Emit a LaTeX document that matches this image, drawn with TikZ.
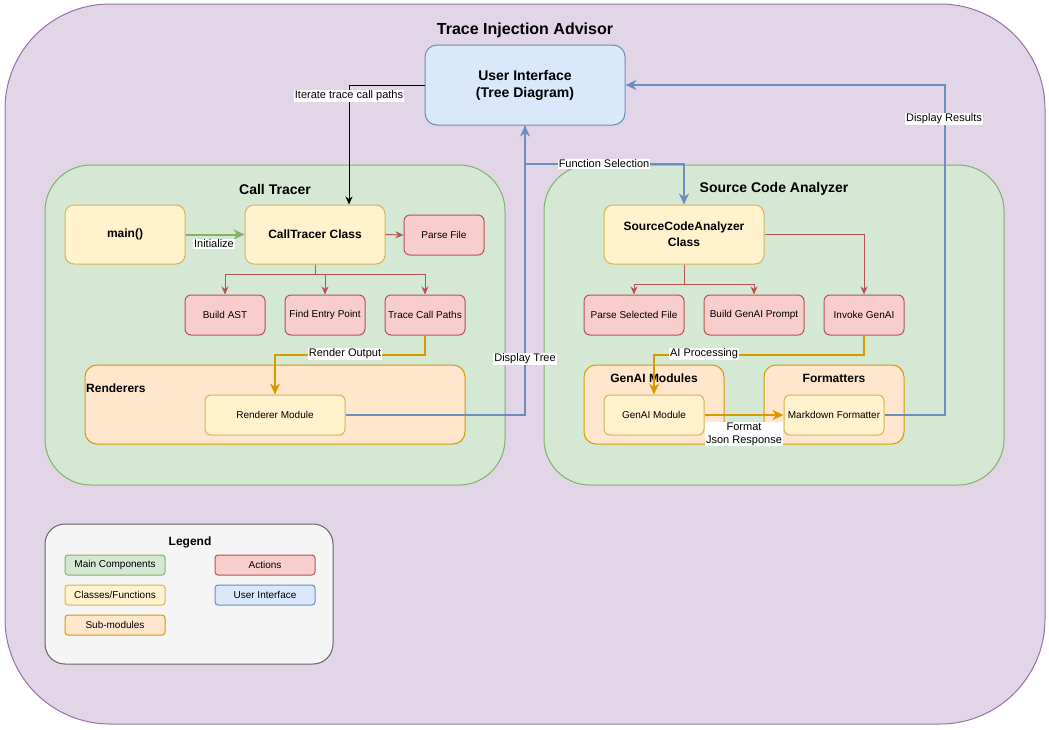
\documentclass[tikz,border=0pt]{standalone}
\usepackage{fontspec}
\setmainfont{Liberation Sans}
\usetikzlibrary{arrows.meta}
\definecolor{pfill}{HTML}{E1D5E7}\definecolor{pline}{HTML}{9673A6}
\definecolor{gfill}{HTML}{D5E8D4}\definecolor{gline}{HTML}{82B366}
\definecolor{yfill}{HTML}{FFF2CC}\definecolor{yline}{HTML}{D6B656}
\definecolor{rfill}{HTML}{F8CECC}\definecolor{rline}{HTML}{B85450}
\definecolor{ofill}{HTML}{FFE6CC}\definecolor{oline}{HTML}{D79B00}
\definecolor{bfill}{HTML}{DAE8FC}\definecolor{bline}{HTML}{6C8EBF}
\definecolor{lfill}{HTML}{F5F5F5}\definecolor{lline}{HTML}{666666}
\begin{document}
\begin{tikzpicture}[x=1pt,y=-1pt,
  base/.style={draw, line width=1pt, inner sep=0pt, align=center},
  purplebox/.style={base, fill=pfill, draw=pline},
  greenbox/.style={base, fill=gfill, draw=gline},
  yellowbox/.style={base, fill=yfill, draw=yline},
  redbox/.style={base, fill=rfill, draw=rline},
  orangebox/.style={base, fill=ofill, draw=oline},
  bluebox/.style={base, fill=bfill, draw=bline},
  greybox/.style={base, fill=lfill, draw=lline},
  f10/.style={font=\fontsize{10}{12}\selectfont},
  f11/.style={font=\fontsize{11}{13}\selectfont},
  b12/.style={font=\fontsize{12}{16}\selectfont\bfseries},
  b14/.style={font=\fontsize{14}{17}\selectfont\bfseries},
  b16/.style={font=\fontsize{16}{19}\selectfont\bfseries},
  ttl/.style={inner sep=0pt},
  lbl/.style={fill=white, inner sep=1pt, f11, align=center},
  thin/.style={line width=1pt, -{Stealth[length=8pt,width=7pt,inset=2.5pt]}},
  thick/.style={line width=2pt, -{Stealth[length=11pt,width=10pt,inset=3.5pt]}},
]
\useasboundingbox (0,0) rectangle (1049,729);
% outer container
\node[purplebox, rounded corners=105pt, minimum width=1040pt, minimum height=720pt] (outer) at (525,364) {};
\node[ttl, b16] (title) at (525,30) {Trace Injection Advisor};
% user interface
\node[bluebox, rounded corners=12pt, minimum width=200pt, minimum height=80pt, b14] (ui) at (525,85) {User Interface\\(Tree Diagram)};
% containers
\node[greenbox, rounded corners=46pt, minimum width=460pt, minimum height=320pt] (ctc) at (275,325) {};
\node[ttl, b14] (cttitle) at (275,189) {Call Tracer};
\node[greenbox, rounded corners=46pt, minimum width=460pt, minimum height=320pt] (scac) at (774,325) {};
\node[ttl, b14] (scatitle) at (774,189) {Source Code Analyzer};
% call tracer
\node[yellowbox, rounded corners=9pt, minimum width=120pt, minimum height=59pt, b12] (main) at (125,234.5) {main()};
\node[yellowbox, rounded corners=9pt, minimum width=140pt, minimum height=59pt, b12] (ct) at (315,234.5) {CallTracer Class};
\node[redbox, rounded corners=6pt, minimum width=80pt, minimum height=40pt, f10] (pf) at (444,235) {Parse File};
\node[redbox, rounded corners=6pt, minimum width=80pt, minimum height=40pt, f10] (bast) at (225,315) {Build AST};
\node[redbox, rounded corners=6pt, minimum width=80pt, minimum height=40pt, f10] (fep) at (325,315) {Find Entry Point};
\node[redbox, rounded corners=6pt, minimum width=80pt, minimum height=40pt, f10] (tcp) at (425,315) {Trace Call Paths};
\node[orangebox, rounded corners=12pt, minimum width=380pt, minimum height=79pt] (rend) at (275,404.5) {};
\node[ttl, b12, anchor=west] (rendtitle) at (86,388) {Renderers};
\node[yellowbox, rounded corners=6pt, minimum width=140pt, minimum height=40pt, f10] (rm) at (275,415) {Renderer Module};
% source code analyzer
\node[yellowbox, rounded corners=9pt, minimum width=160pt, minimum height=59pt, b12] (sca) at (684,234.5) {SourceCodeAnalyzer\\Class};
\node[redbox, rounded corners=6pt, minimum width=100pt, minimum height=40pt, f10] (psf) at (634,315) {Parse Selected File};
\node[redbox, rounded corners=6pt, minimum width=100pt, minimum height=40pt, f10] (bgp) at (754,315) {Build GenAI Prompt};
\node[redbox, rounded corners=6pt, minimum width=80pt, minimum height=40pt, f10] (inv) at (864,315) {Invoke GenAI};
\node[orangebox, rounded corners=12pt, minimum width=140pt, minimum height=79pt] (gmc) at (654,404.5) {};
\node[ttl, b12] (gmtitle) at (654,378) {GenAI Modules};
\node[orangebox, rounded corners=12pt, minimum width=140pt, minimum height=79pt] (fmc) at (834,404.5) {};
\node[ttl, b12] (fmtitle) at (834,378) {Formatters};
\node[yellowbox, rounded corners=6pt, minimum width=100pt, minimum height=40pt, f10] (gm) at (654,415) {GenAI Module};
\node[yellowbox, rounded corners=6pt, minimum width=100pt, minimum height=40pt, f10] (mf) at (834,415) {Markdown Formatter};
% legend
\node[greybox, rounded corners=20pt, minimum width=288pt, minimum height=140pt] (leg) at (189,594) {};
\node[ttl, b12] (legtitle) at (190,542) {Legend};
\node[greenbox, rounded corners=3pt, minimum width=100pt, minimum height=20pt, f10] (l1) at (115,565) {Main Components};
\node[yellowbox, rounded corners=3pt, minimum width=100pt, minimum height=20pt, f10] (l2) at (115,595) {Classes/Functions};
\node[orangebox, rounded corners=3pt, minimum width=100pt, minimum height=20pt, f10] (l3) at (115,625) {Sub-modules};
\node[redbox, rounded corners=3pt, minimum width=100pt, minimum height=20pt, f10] (l4) at (265,565) {Actions};
\node[bluebox, rounded corners=3pt, minimum width=100pt, minimum height=20pt, f10] (l5) at (265,595) {User Interface};
% connectors
\draw[thick, draw=gline] (main.east) -- (ct.west);
\node[lbl] (linit) at (214,244) {Initialize};
\draw[thin, draw=rline] (ct.east) -- (pf.west);
\draw[thin, draw=rline] (ct.south) -- ++(0,10) -| (bast.north);
\draw[thin, draw=rline] (ct.south) -- ++(0,10) -| (fep.north);
\draw[thin, draw=rline] (ct.south) -- ++(0,10) -| (tcp.north);
\draw[thick, draw=oline] (tcp.south) -- ++(0,19) -| (rm.north);
\node[lbl] (lrend) at (345,354) {Render Output};
\draw[thin, draw=black] (ui.west) -| ([xshift=34pt]ct.north);
\node[lbl] (liter) at (349,96) {Iterate trace call paths};
\draw[thick, draw=bline] (rm.east) -| (ui.south);
\node[lbl] (ldisp) at (525,359) {Display Tree};
\draw[thick, draw=bline] (ui.south) |- ([yshift=41pt]sca.north) -- (sca.north);
\node[lbl] (lfunc) at (604,164) {Function Selection};
\draw[thin, draw=rline] (sca.south) -- ++(0,20) -| (psf.north);
\draw[thin, draw=rline] (sca.south) -- ++(0,20) -| (bgp.north);
\draw[thin, draw=rline] (sca.east) -| (inv.north);
\draw[thick, draw=oline] (inv.south) -- ++(0,19) -| (gm.north);
\node[lbl] (lai) at (704,354) {AI Processing};
\draw[thick, draw=oline] (gm.east) -- (mf.west);
\node[lbl] (lfmt) at (744,434) {Format\\Json Response};
\draw[thick, draw=bline] (mf.east) -- ++(60,0) |- (ui.east);
\node[lbl] (lres) at (944,119) {Display Results};
\end{tikzpicture}
\end{document}
